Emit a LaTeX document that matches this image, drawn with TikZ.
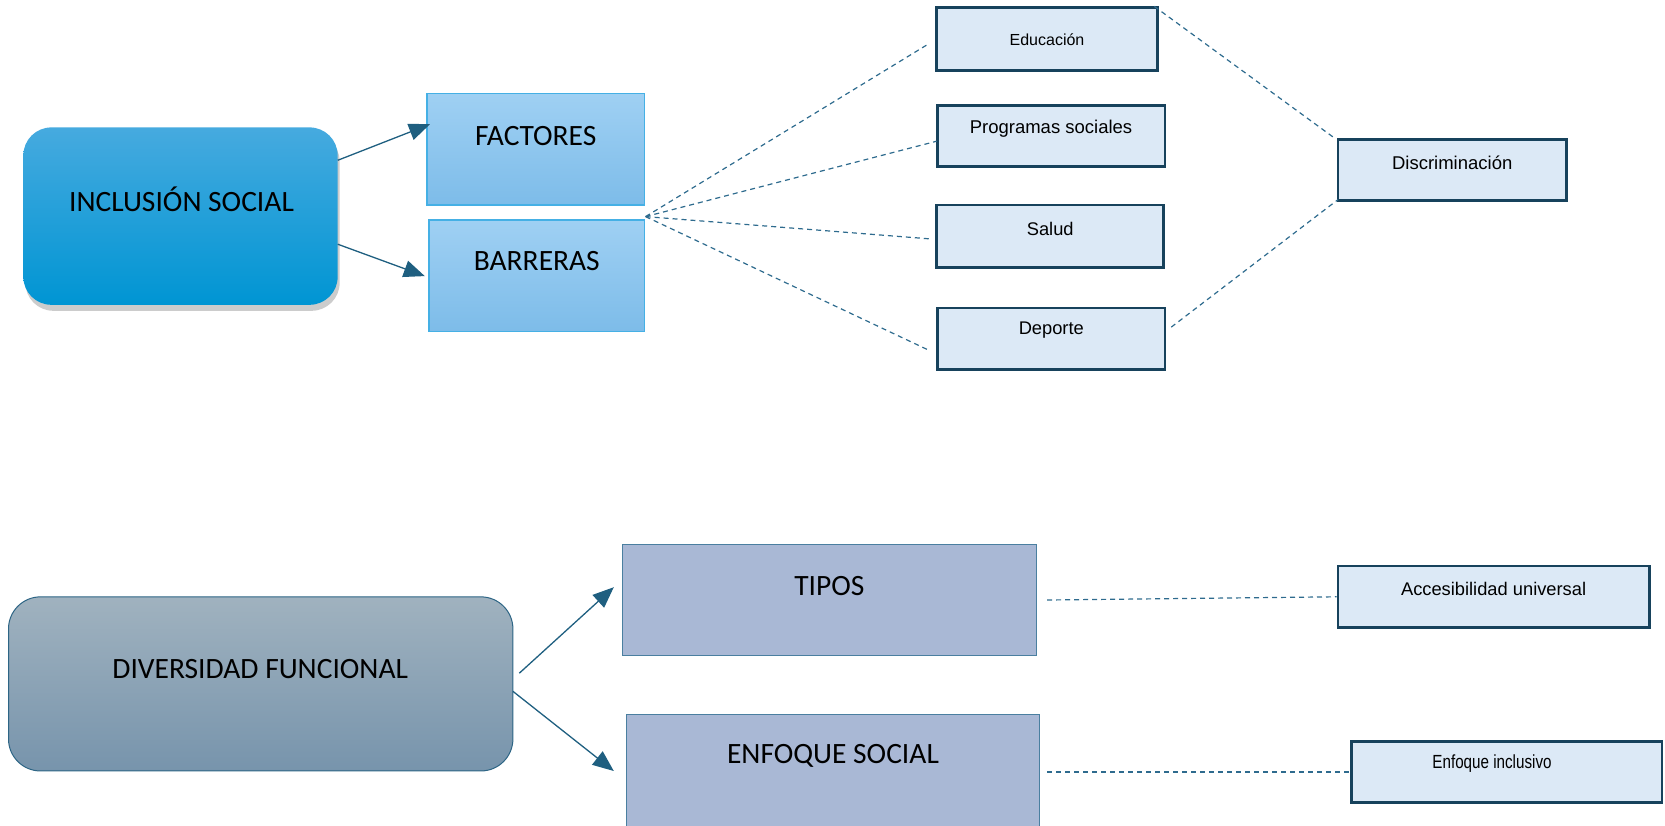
\documentclass[tikz,border=0pt]{standalone}
\usepackage{fontspec}
\setmainfont{Liberation Sans}
\newfontfamily\calfont{Carlito}
\newfontfamily\narrowfont[FakeStretch=0.8]{Liberation Sans}
\usetikzlibrary{arrows.meta,shadows}
\definecolor{arrowc}{HTML}{1F5F80}
\definecolor{dashc}{HTML}{2E6B8E}
\definecolor{smallborder}{HTML}{17425C}
\definecolor{smallfill}{HTML}{DCE9F6}
\definecolor{cIncTop}{HTML}{46AADF}
\definecolor{cIncBot}{HTML}{0095D3}
\definecolor{cDivBorder}{HTML}{2D6585}
\definecolor{cDivTop}{HTML}{A0B2BF}
\definecolor{cDivBot}{HTML}{7794AC}
\definecolor{cLightBorder}{HTML}{45B0E5}
\definecolor{cLightTop}{HTML}{9FD0F3}
\definecolor{cLightBot}{HTML}{7DBCE9}
\definecolor{cSlateBorder}{HTML}{4A7FA0}
\definecolor{cSlate}{HTML}{A9B8D5}
\tikzset{
  bigtxt/.style={font=\calfont\fontsize{29.5}{35}\selectfont, inner sep=0pt},
  inclbox/.style={draw=none, rounded corners=28pt, top color=cIncTop, bottom color=cIncBot,
    drop shadow={shadow xshift=2pt, shadow yshift=-6pt, opacity=0.4}},
  divbox/.style={draw=cDivBorder, line width=1pt, rounded corners=32pt, top color=cDivTop, bottom color=cDivBot},
  lightbox/.style={draw=cLightBorder, line width=1.3pt, top color=cLightTop, bottom color=cLightBot},
  slatebox/.style={draw=cSlateBorder, line width=1pt, fill=cSlate},
  smallbox/.style={draw=smallborder, line width=2.8pt, fill=smallfill},
  arr/.style={draw=arrowc, line width=1.3pt, -{Triangle[length=21pt,width=17pt]}},
  dline/.style={draw=dashc, line width=1.2pt, dash pattern=on 5pt off 4pt},
  lbl/.style={font=\fontsize{#1}{#1}\selectfont, inner sep=0pt}
}
\begin{document}
\begin{tikzpicture}[x=1pt,y=-1pt]
\useasboundingbox (0,0) rectangle (1665,825);
% top section
\node[inclbox, minimum width=314.3pt, minimum height=177.4pt] (incl) at (180.5,216.1) {};
\node[bigtxt] (inclT) at (181.5,199.6) {INCLUSIÓN SOCIAL};
\node[lightbox, minimum width=217.7pt, minimum height=111.5pt] (fact) at (535.7,149.2) {};
\node[bigtxt] (factT) at (535.7,135.9) {FACTORES};
\node[lightbox, minimum width=215.6pt, minimum height=111.5pt] (barr) at (536.8,275.6) {};
\node[bigtxt] (barrT) at (536.8,261.2) {BARRERAS};

\coordinate (a1s) at (337.7,160.3);
\coordinate (a1e) at (430,124.2);
\coordinate (a2s) at (337.7,244.2);
\coordinate (a2e) at (424.8,276.1);
\draw[arr] (a1s) -- (a1e);
\draw[arr] (a2s) -- (a2e);

\node[smallbox, minimum width=220.9pt, minimum height=62.7pt] (edu) at (1047,38.8) {};
\node[lbl=16] (eduT) at (1047,39.3) {Educación};
\node[smallbox, minimum width=227.2pt, minimum height=61.6pt] (prog) at (1051.3,135.9) {};
\node[lbl=18.5] (progT) at (1051,128.5) {Programas sociales};
\node[smallbox, minimum width=227.2pt, minimum height=62.7pt] (sal) at (1050.2,236.3) {};
\node[lbl=18.3] (salT) at (1050.2,229.4) {Salud};
\node[smallbox, minimum width=227.2pt, minimum height=61.6pt] (dep) at (1051.3,338.8) {};
\node[lbl=18.3] (depT) at (1051.3,330.3) {Deporte};
\node[smallbox, minimum width=228.3pt, minimum height=61.6pt] (disc) at (1452.2,169.9) {};
\node[lbl=18.5] (discT) at (1452.2,162.5) {Discriminación};

\coordinate (hub) at (645.6,216.6);
\coordinate (e1) at (929.2,43.5);
\coordinate (e2) at (936.6,141.2);
\coordinate (e3) at (930.2,238.9);
\coordinate (e4) at (929.2,350.4);
\draw[dline] (hub) -- (e1);
\draw[dline] (hub) -- (e2);
\draw[dline] (hub) -- (e3);
\draw[dline] (hub) -- (e4);
\coordinate (f1) at (1154.3,6.4);
\coordinate (g1) at (1335.9,139.1);
\coordinate (f2) at (1171.3,327.1);
\coordinate (g2) at (1338,199.6);
\draw[dline] (f1) -- (g1);
\draw[dline] (f2) -- (g2);

% bottom section
\node[divbox, minimum width=504.4pt, minimum height=174.1pt] (div) at (260.7,683.9) {};
\node[bigtxt] (divT) at (260.2,669) {DIVERSIDAD FUNCIONAL};
\node[slatebox, minimum width=414.1pt, minimum height=110.4pt] (tipos) at (829.4,600) {};
\node[bigtxt] (tiposT) at (829.4,586.2) {TIPOS};
\node[slatebox, minimum width=413.1pt, minimum height=115.3pt] (enf) at (833,772.4) {};
\node[bigtxt] (enfT) at (833,756.1) {ENFOQUE SOCIAL};

\coordinate (b1s) at (519.3,673.2);
\coordinate (b1e) at (613.8,587.2);
\coordinate (b2s) at (512.9,691.3);
\coordinate (b2e) at (613.8,771);
\draw[arr] (b1s) -- (b1e);
\draw[arr] (b2s) -- (b2e);

\node[smallbox, minimum width=311.1pt, minimum height=61.6pt] (acc) at (1493.6,596.8) {};
\node[lbl=18.3] (accT) at (1493.6,589.4) {Accesibilidad universal};
\node[smallbox, minimum width=310.1pt, minimum height=61.6pt] (inc) at (1506.9,772) {};
\node[inner sep=0pt, font=\narrowfont\fontsize{19}{19}\selectfont] (incT) at (1492,763.5) {Enfoque inclusivo};

\coordinate (h1) at (1047,600);
\coordinate (h2) at (1047,772);
\draw[dline] (h1) -- (acc.west);
\draw[dline] (h2) -- (inc.west);
\end{tikzpicture}
\end{document}
